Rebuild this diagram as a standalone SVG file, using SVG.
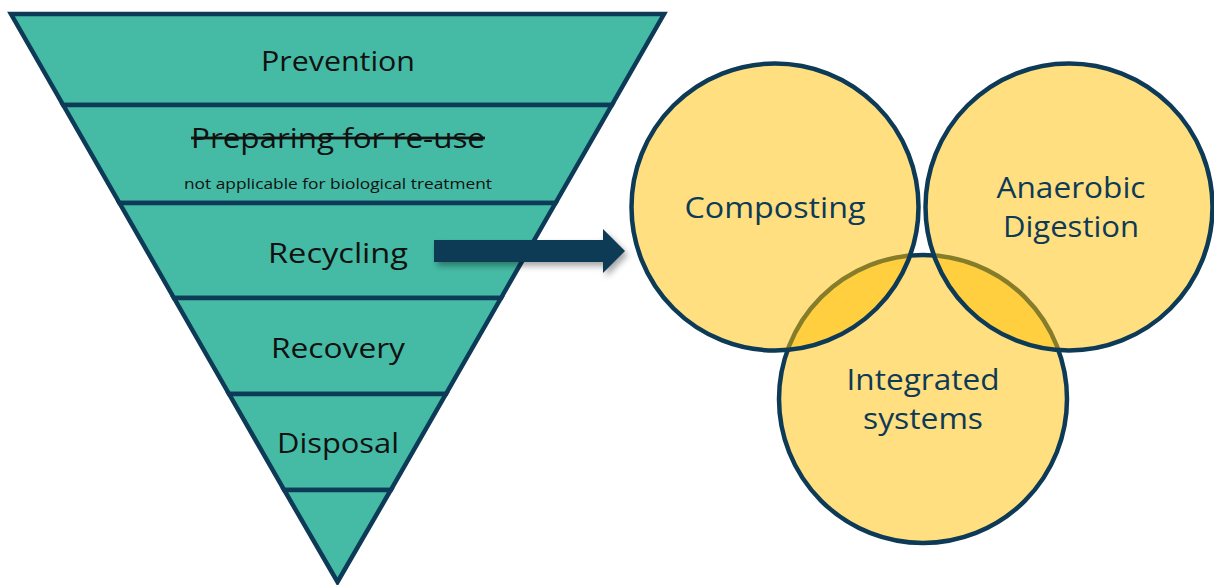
<svg xmlns="http://www.w3.org/2000/svg" width="1214" height="585" viewBox="0 0 1214 585">
  <defs>
    <style>
      .band { fill: #45bba5; stroke: #0d3a57; stroke-width: 4.5; stroke-linejoin: miter; }
      .tl { font-family: "Open Sans", "Liberation Sans", sans-serif; font-size: 28px; fill: #111; text-anchor: middle; }
      .small { font-family: "Open Sans", "Liberation Sans", sans-serif; font-size: 14.5px; fill: #111; text-anchor: middle; }
      .circ { fill: #ffc000; fill-opacity: 0.5; stroke: #0d3a57; stroke-width: 4.5; }
      .cl { font-family: "Open Sans", "Liberation Sans", sans-serif; font-size: 29px; fill: #0d3a57; text-anchor: middle; }
    </style>
    <filter id="shadow" x="-20%" y="-50%" width="140%" height="200%">
      <feDropShadow dx="3" dy="4" stdDeviation="3" flood-color="#000" flood-opacity="0.35"/>
    </filter>
  </defs>

  <g id="prevention">
    <polygon class="band" points="11,14 664,14 611.8,105 63.2,105"/>
    <text class="tl" x="338" y="71" textLength="154" lengthAdjust="spacingAndGlyphs">Prevention</text>
  </g>
  <g id="preparing-for-re-use">
    <polygon class="band" points="63.2,105 611.8,105 555.5,203 119.5,203"/>
    <text class="tl" x="338" y="148" textLength="294" lengthAdjust="spacingAndGlyphs" style="text-decoration: line-through;">Preparing for re-use</text>
    <text class="small" x="338" y="189" textLength="308" lengthAdjust="spacingAndGlyphs">not applicable for biological treatment</text>
  </g>
  <g id="recycling">
    <polygon class="band" points="119.5,203 555.5,203 501,298 174,298"/>
    <text class="tl" x="338" y="263" textLength="140" lengthAdjust="spacingAndGlyphs">Recycling</text>
  </g>
  <g id="recovery">
    <polygon class="band" points="174,298 501,298 445.9,394 229.1,394"/>
    <text class="tl" x="338" y="358" textLength="134" lengthAdjust="spacingAndGlyphs">Recovery</text>
  </g>
  <g id="disposal">
    <polygon class="band" points="229.1,394 445.9,394 390.8,490 284.2,490"/>
    <text class="tl" x="338" y="453" textLength="122" lengthAdjust="spacingAndGlyphs">Disposal</text>
  </g>
  <g id="tip">
    <polygon class="band" points="284.2,490 390.8,490 337.5,582"/>
  </g>

  <g id="connectors">
    <polygon points="434,240 603,240 603,229 625,251 603,273 603,262 434,262" fill="#0d3a57" filter="url(#shadow)"/>
  </g>

  <g id="integrated-systems">
    <circle class="circ" cx="923" cy="399" r="144"/>
    <text class="cl" x="923" y="390" textLength="153" lengthAdjust="spacingAndGlyphs">Integrated</text>
    <text class="cl" x="923" y="429" textLength="120" lengthAdjust="spacingAndGlyphs">systems</text>
  </g>
  <g id="composting">
    <circle class="circ" cx="775" cy="207" r="143.5"/>
    <text class="cl" x="775" y="218" textLength="181" lengthAdjust="spacingAndGlyphs">Composting</text>
  </g>
  <g id="anaerobic-digestion">
    <circle class="circ" cx="1069" cy="207" r="143.5"/>
    <text class="cl" x="1071" y="198" textLength="149" lengthAdjust="spacingAndGlyphs">Anaerobic</text>
    <text class="cl" x="1071" y="237" textLength="136" lengthAdjust="spacingAndGlyphs">Digestion</text>
  </g>
</svg>
